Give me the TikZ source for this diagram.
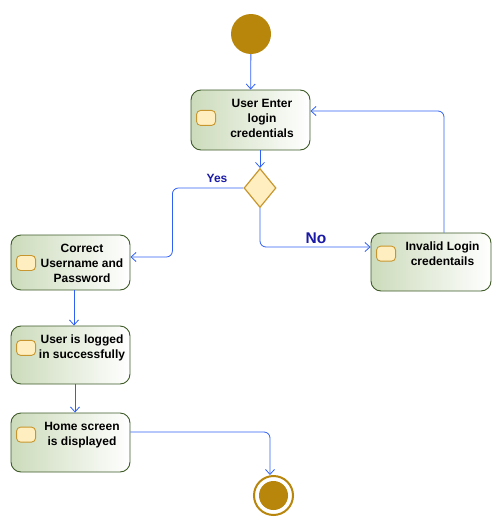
\documentclass[tikz,border=0pt]{standalone}
\usepackage{fontspec}
\setmainfont{Liberation Sans}
\usepackage{tikz}
\usetikzlibrary{shapes.geometric,arrows.meta,positioning}
\definecolor{gold}{HTML}{B8860B}
\definecolor{actgreen}{HTML}{CCDBBB}
\definecolor{actline}{HTML}{3E5A28}
\definecolor{iconfill}{HTML}{FFEFC0}
\definecolor{iconline}{HTML}{C8962E}
\definecolor{flow}{HTML}{2F5FF5}
\definecolor{guard}{HTML}{1A1AA6}

\begin{document}
\begin{tikzpicture}[x=1pt, y=-1pt,
  activity/.style = {draw=actline, line width=0.9pt, rounded corners=10pt, left color=actgreen, right color=white, minimum width=119pt, minimum height=58pt, inner sep=0pt},
  acttext/.style = {anchor=north, align=center, inner sep=0pt, xshift=11.5pt, yshift=-9pt, font=\fontsize{12}{15}\selectfont\bfseries},
  icon/.style = {draw=iconline, fill=iconfill, line width=0.9pt, rounded corners=4pt, minimum width=19pt, minimum height=15pt, inner sep=0pt, xshift=15.5pt},
  decision/.style = {diamond, draw=iconline, fill=iconfill, line width=1.2pt, aspect=0.82, minimum width=32pt, minimum height=39pt, inner sep=0pt},
  flowline/.style = {draw=flow, line width=0.8pt, rounded corners=6pt, -{Straight Barb[length=5pt,width=9pt]}},
  guardtext/.style = {text=guard, inner sep=0pt, font=\fontsize{12}{14}\selectfont\bfseries}]
  \useasboundingbox (0,0) rectangle (501,530);

  \node[circle, fill=gold, minimum size=40pt, inner sep=0pt] (start) at (251,34) {};

  \node[activity, minimum height=60pt] (enter) at (250.5,120) {};
  \node[acttext] (entertxt) at (enter.north) {User Enter\\login\\credentials};
  \node[icon] (entericon) at (enter.west |- entertxt.center) {};

  \node[decision] (dec) at (260,188) {};

  \node[activity, minimum height=55pt] (correct) at (70.5,262.5) {};
  \node[acttext] (correcttxt) at (correct.north) {Correct\\Username and\\Password};
  \node[icon] (correcticon) at (correct.west |- correcttxt.center) {};

  \node[activity] (logged) at (70.5,355) {};
  \node[acttext] (loggedtxt) at (logged.north) {User is logged\\in successfully};
  \node[icon] (loggedicon) at (logged.west |- loggedtxt.center) {};

  \node[activity, minimum height=59pt] (home) at (70.5,442.5) {};
  \node[acttext] (hometxt) at (home.north) {Home screen\\is displayed};
  \node[icon] (homeicon) at (home.west |- hometxt.center) {};

  \node[activity, minimum width=120pt] (invalid) at (431,262) {};
  \node[acttext] (invalidtxt) at (invalid.north) {Invalid Login\\credentails};
  \node[icon] (invalidicon) at (invalid.west |- invalidtxt.center) {};

  \node[circle, draw=gold, line width=2pt, fill=white, minimum size=39pt, inner sep=0pt] (final) at (273.5,495.5) {};
  \node[circle, fill=gold, minimum size=29pt, inner sep=0pt] (finaldot) at (final) {};

  \node[guardtext] (yes) at (217,178) {Yes};
  \node[guardtext, font=\fontsize{15.5}{18}\selectfont\bfseries] (no) at (316,238) {No};

  \draw[flowline] (start) -- (enter);
  \draw[flowline] (enter.south -| dec.north) -- (dec.north);
  \draw[flowline] (dec.west) -- ++(-71,0) |- ([yshift=5.5pt]correct.east);
  \draw[flowline] (dec.south) |- ([yshift=15pt]invalid.west);
  \draw[flowline] ([xshift=13pt]invalid.north) |- ([yshift=9pt]enter.east);
  \draw[flowline] ([xshift=3.5pt]correct.south) -- ([xshift=3.5pt]logged.north);
  \draw[flowline] ([xshift=4.5pt]logged.south) -- ([xshift=4.5pt]home.north);
  \draw[flowline] ([yshift=10.5pt]home.east) -| ([xshift=-3.5pt]final.north);
\end{tikzpicture}
\end{document}
